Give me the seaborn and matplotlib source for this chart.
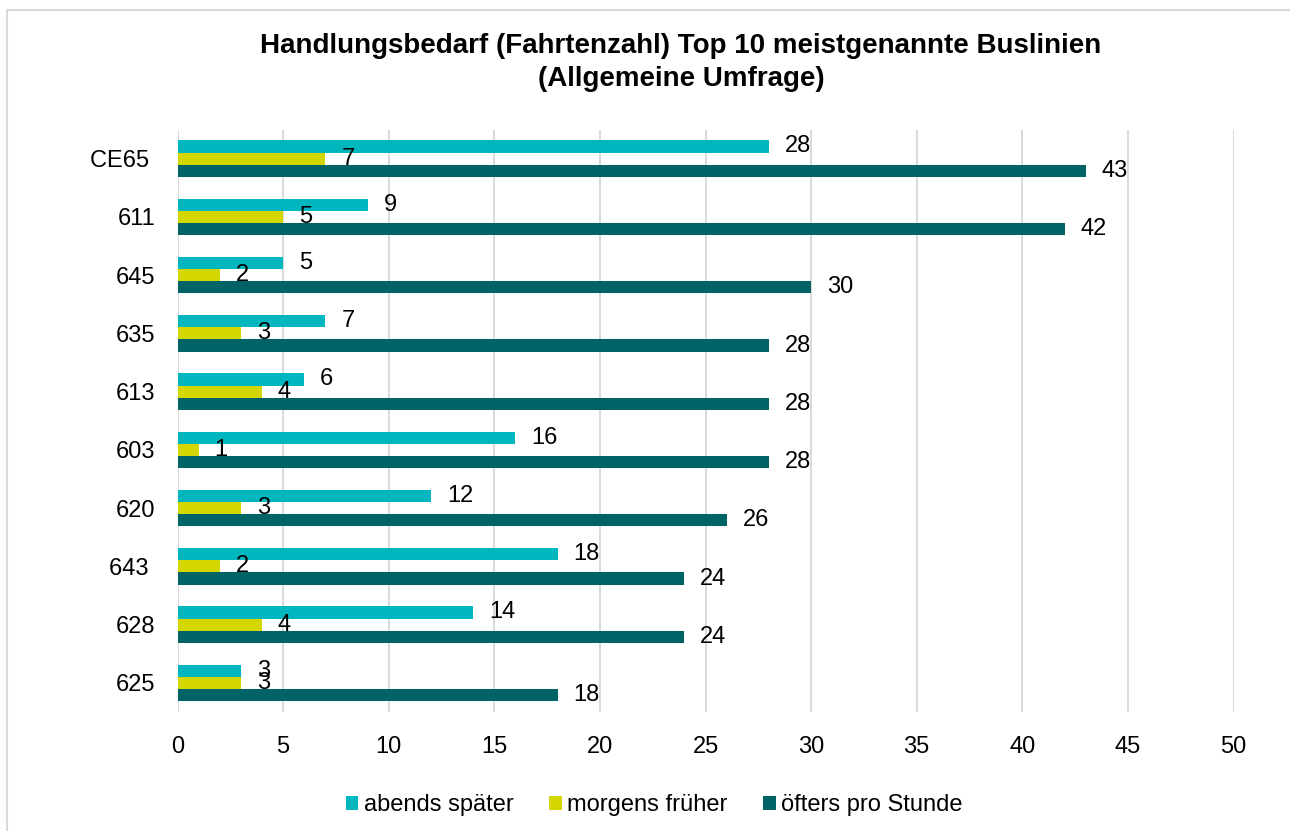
import numpy as np
import pandas as pd
import matplotlib
matplotlib.use("Agg")
import matplotlib.pyplot as plt
from matplotlib.patches import Rectangle
import seaborn as sns

# ---- data ----
categories = ["CE65", "611", "645", "635", "613", "603", "620", "643", "628", "625"]
ytick_labels = ["CE65 ", "611", "645", "635", "613", "603", "620", "643 ", "628", "625"]
series = ["abends später", "morgens früher", "öfters pro Stunde"]
abends_spaeter = [28, 9, 5, 7, 6, 16, 12, 18, 14, 3]
morgens_frueher = [7, 5, 2, 3, 4, 1, 3, 2, 4, 3]
oefters_pro_stunde = [43, 42, 30, 28, 28, 28, 26, 24, 24, 18]
colors = ["#00B7BF", "#D3D600", "#006366"]
title_lines = ["Handlungsbedarf (Fahrtenzahl) Top 10 meistgenannte Buslinien",
               "(Allgemeine Umfrage)"]
xticks = [0, 5, 10, 15, 20, 25, 30, 35, 40, 45, 50]

df = pd.DataFrame({
    "Linie": categories * 3,
    "Serie": [series[0]] * 10 + [series[1]] * 10 + [series[2]] * 10,
    "Wert": abends_spaeter + morgens_frueher + oefters_pro_stunde,
})

sns.set_theme(style="white")
plt.rcParams["font.family"] = ["Liberation Sans", "DejaVu Sans"]
plt.rcParams["text.color"] = "#000000"

FS = 17
W, H = 1290, 831
fig = plt.figure(figsize=(W / 100, H / 100), dpi=100)
ax = fig.add_axes([177.5 / W, 1 - 712 / H, (1233.5 - 177.5) / W, (712 - 129.5) / H])

sns.barplot(data=df, x="Wert", y="Linie", hue="Serie", order=categories,
            hue_order=series, palette=colors, orient="h", width=0.625,
            saturation=1, linewidth=0, ax=ax, legend=False)

for cont in ax.containers:
    ax.bar_label(cont, fmt="%d", padding=11.5, fontsize=FS, color="#000000")

ax.set_xlim(0, 50)
ax.set_ylim(9.5, -0.5)
ax.set_xticks(xticks)
ax.set_yticks(range(len(categories)), ytick_labels)
ax.set_xlabel("")
ax.set_ylabel("")
ax.grid(axis="x", color="#D9D9D9", linewidth=1.4)
ax.grid(axis="y", visible=False)
ax.set_axisbelow(True)
for s in ax.spines.values():
    s.set_visible(False)
ax.tick_params(axis="x", length=0, pad=17, labelsize=FS, labelcolor="#000000")
ax.tick_params(axis="y", length=0, pad=15.8, labelsize=FS, labelcolor="#000000")

# title
fig.text(681 / W, 1 - 46 / H, title_lines[0], ha="center", va="center",
         fontsize=20, fontweight="bold", color="#000000")
fig.text(681 / W, 1 - 79 / H, title_lines[1], ha="center", va="center",
         fontsize=20, fontweight="bold", color="#000000")

# legend
handles = [Rectangle((0, 0), 1, 1, facecolor=c, edgecolor="none") for c in colors]
fig.legend(handles, series, loc="center", bbox_to_anchor=(654 / W, 1 - 805 / H),
           ncol=3, frameon=False, fontsize=FS, handlelength=0.55, handleheight=0.55,
           handletextpad=0.22, columnspacing=1.5, borderpad=0, borderaxespad=0,
           labelcolor="#000000")

# chart border (cropped frame)
fig.patches.append(Rectangle((7 / W, -0.2), 1.5, 1.2 - 10 / H, transform=fig.transFigure,
                             fill=False, edgecolor="#D9D9D9", linewidth=1.5))

fig.savefig("out.png", dpi=100)
